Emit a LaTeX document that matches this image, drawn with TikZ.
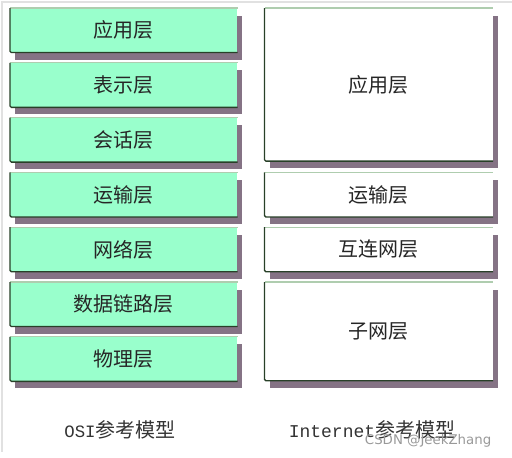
\documentclass[tikz,border=0pt]{standalone}
\usepackage{fontspec}
\setmainfont{Noto Sans CJK SC}
\newfontfamily\monofont{Liberation Mono}
\newfontfamily\markfont{DejaVu Sans}
\usetikzlibrary{shadows,positioning}
\definecolor{mint}{RGB}{153,255,204}
\definecolor{plum}{RGB}{133,115,133}
\definecolor{edgedark}{RGB}{40,64,40}
\definecolor{edgelight}{RGB}{175,205,175}
\definecolor{framegray}{RGB}{225,225,225}

\begin{document}
\begin{tikzpicture}
[x=0.75pt,y=-0.75pt,
node distance=7.7pt,
layer/.style={rectangle,inner sep=0pt,minimum width=170.25pt,minimum height=33pt,
  fill=mint,text=black!85,font=\fontsize{15}{17}\selectfont,
  drop shadow={shadow xshift=3.75pt,shadow yshift=-5.5pt,fill=plum,opacity=1}},
plain/.style={layer,fill=white,minimum width=171pt},
rim/.style={edgedark,line width=1pt,rounded corners=1pt},
toprim/.style={edgelight,line width=1pt},
caption/.style={text=black!80,font=\fontsize{15}{17}\selectfont},
watermark/.style={text=black!40,font=\markfont\fontsize{10}{12}\selectfont}]
\useasboundingbox (0,0) rectangle (512,458);
%%
% frame
%%
\draw[framegray,line width=1pt] (2,452) -- (2,2) -- (512,2);
%%
% OSI
%%
\node[layer,anchor=north west] (osi1) at (10,8) {应用层};
\node[layer,below=of osi1] (osi2) {表示层};
\node[layer,below=of osi2] (osi3) {会话层};
\node[layer,below=of osi3] (osi4) {运输层};
\node[layer,below=of osi4] (osi5) {网络层};
\node[layer,below=of osi5] (osi6) {数据链路层};
\node[layer,below=of osi6] (osi7) {物理层};
%%
% Internet
%%
\node[plain,minimum height=114.45pt,anchor=north west] (app)
  at ([xshift=20.25pt]osi1.north east) {应用层};
\node[plain] (tcp) at (osi4 -| app) {运输层};
\node[plain,below=of tcp] (ip) {互连网层};
\node[plain,minimum height=73.7pt,below=of ip] (net) {子网层};
%%
% rims
%%
\foreach \n in {osi1,osi2,osi3,osi4,osi5,osi6,osi7,app,tcp,ip,net}{
  \draw[toprim] (\n.north west) -- (\n.north east);
  \draw[rim] (\n.north west) -- (\n.south west) -- (\n.south east);
}
%%
% captions
%%
\node[caption] (osicap) at (120,430) {{\monofont\fontsize{13}{15}\selectfont OSI}参考模型};
\node[caption] (netcap) at (372,430) {{\monofont\fontsize{13.5}{15}\selectfont Internet}参考模型};
\node[watermark,anchor=base east] (wm) at (496,444) {CSDN @JeekZhang};
\end{tikzpicture}
\end{document}
